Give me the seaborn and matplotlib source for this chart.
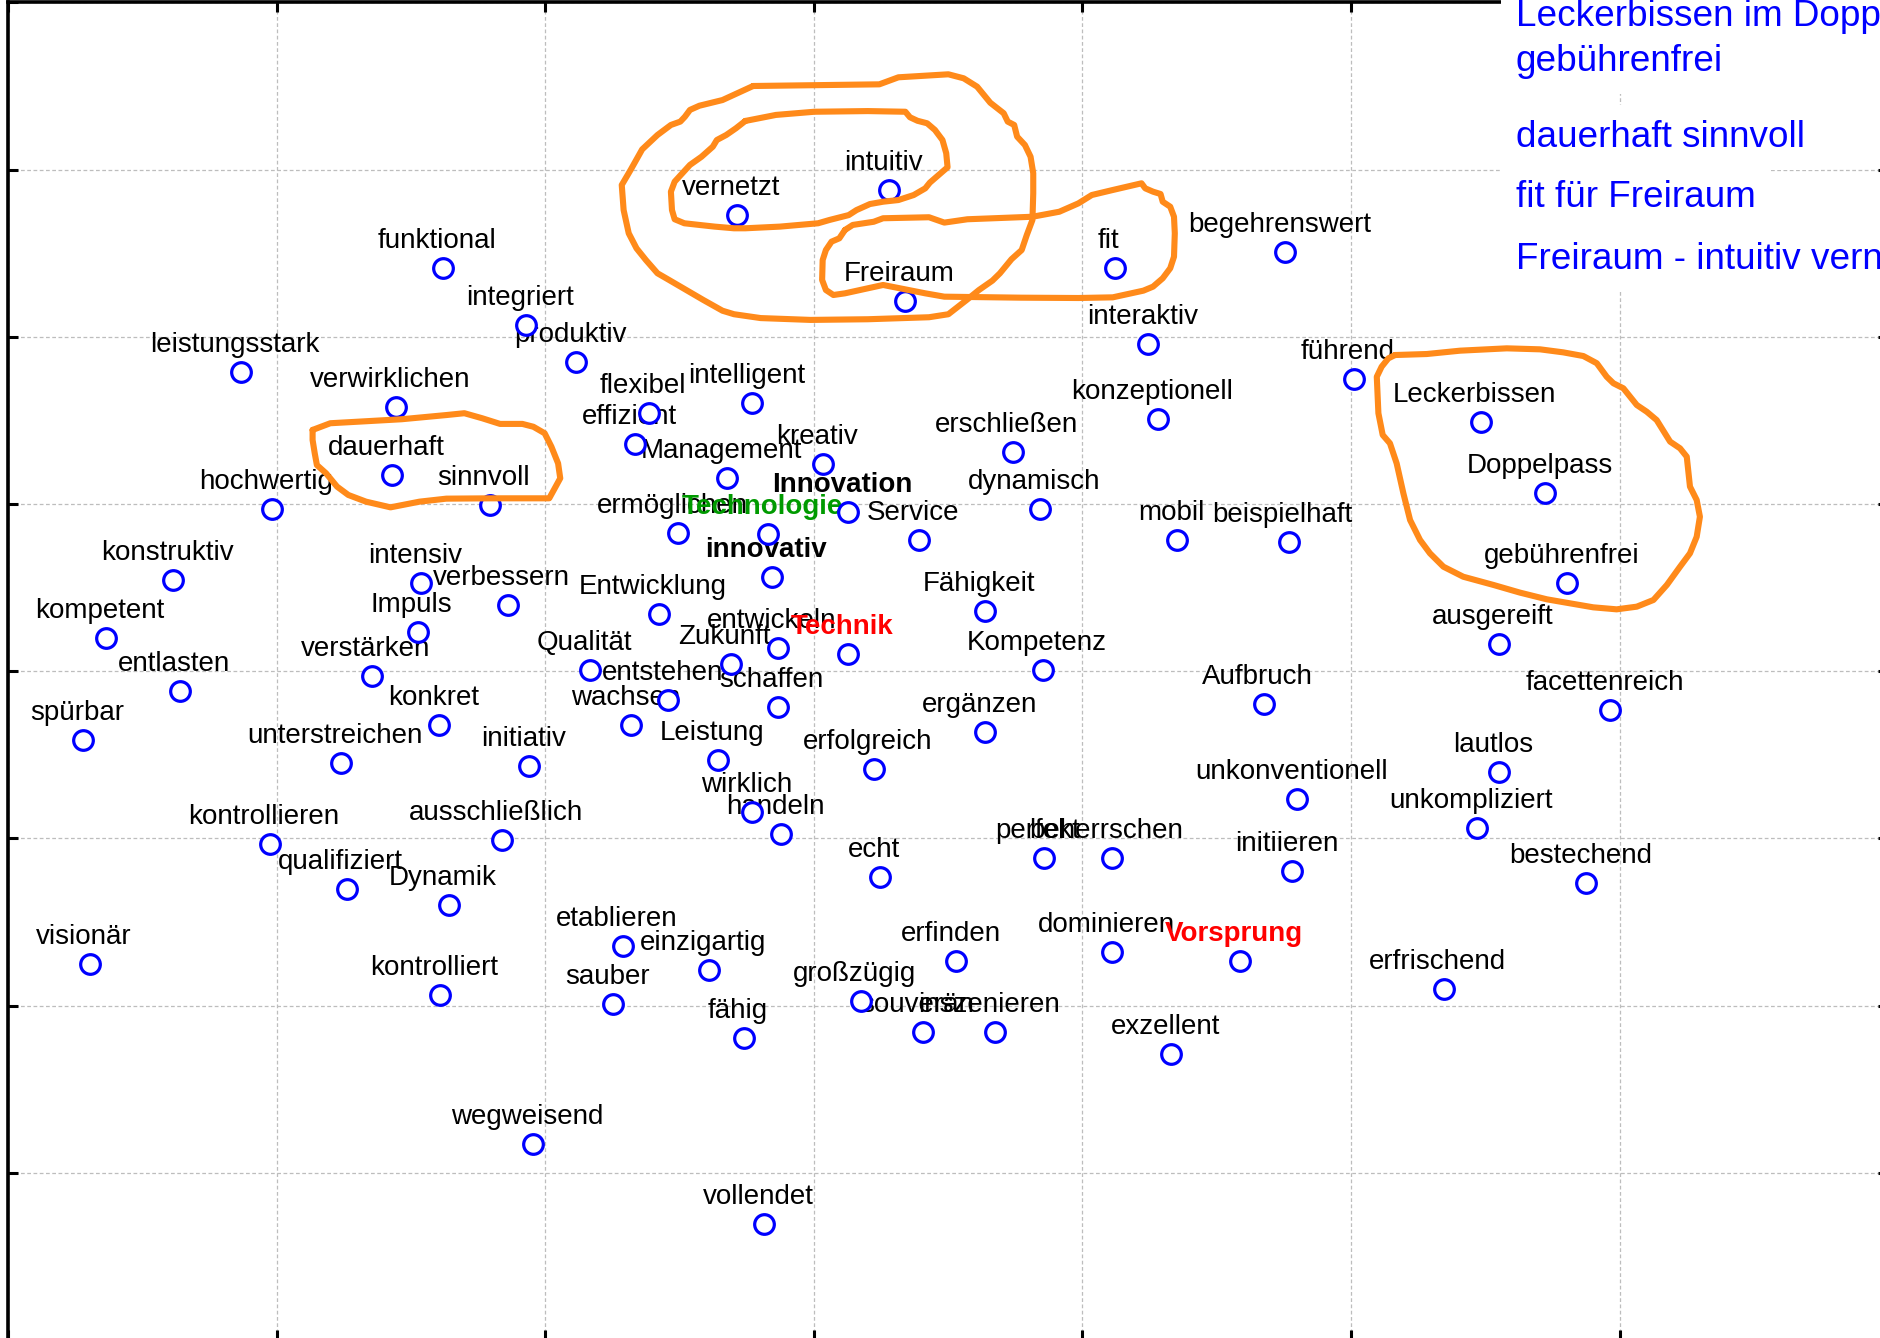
import matplotlib
matplotlib.use("Agg")
import matplotlib.pyplot as plt
import seaborn as sns
import pandas as pd

# ---------------- data ----------------
words = [
    "funktional", "integriert", "produktiv", "leistungsstark", "verwirklichen",
    "flexibel", "intelligent", "effizient", "dauerhaft", "sinnvoll",
    "hochwertig", "Management", "kreativ", "ermöglichen", "Technologie",
    "Innovation", "Service", "innovativ", "konstruktiv", "intensiv",
    "verbessern", "Entwicklung", "Impuls", "kompetent", "verstärken",
    "Qualität", "Zukunft", "entwickeln", "Technik", "entstehen",
    "schaffen", "entlasten", "konkret", "wachsen", "spürbar",
    "unterstreichen", "initiativ", "Leistung", "Fähigkeit", "Kompetenz",
    "ergänzen", "erfolgreich", "wirklich", "handeln", "kontrollieren",
    "ausschließlich", "qualifiziert", "Dynamik", "echt", "perfekt",
    "beherrschen", "initiieren", "visionär", "etablieren", "einzigartig",
    "kontrolliert", "sauber", "erfinden", "dominieren", "Vorsprung",
    "großzügig", "souverän", "inszenieren", "fähig", "exzellent",
    "wegweisend", "vollendet", "vernetzt", "intuitiv", "Freiraum",
    "fit", "begehrenswert", "interaktiv", "führend", "konzeptionell",
    "erschließen", "dynamisch", "mobil", "beispielhaft", "Leckerbissen",
    "Doppelpass", "gebührenfrei", "ausgereift", "Aufbruch", "facettenreich",
    "lautlos", "unkonventionell", "unkompliziert", "bestechend", "erfrischend",
]
word_x = [
    1.619, 1.927, 2.115, 0.868, 1.445,
    2.387, 2.771, 2.334, 1.431, 1.793,
    0.984, 2.678, 3.035, 2.494, 2.830,
    3.129, 3.392, 2.843, 0.614, 1.538,
    1.860, 2.423, 1.525, 0.363, 1.355,
    2.168, 2.691, 2.865, 3.129, 2.459,
    2.865, 0.640, 1.605, 2.320, 0.279,
    1.239, 1.940, 2.642, 3.638, 3.853,
    3.638, 3.223, 2.771, 2.879, 0.975,
    1.838, 1.261, 1.641, 3.245, 3.857,
    4.112, 4.782, 0.305, 2.289, 2.611,
    1.610, 2.253, 3.531, 4.112, 4.585,
    3.174, 3.406, 3.674, 2.740, 4.331,
    1.954, 2.816, 2.713, 3.281, 3.339,
    4.121, 4.755, 4.246, 5.010, 4.281,
    3.741, 3.844, 4.353, 4.768, 5.483,
    5.724, 5.805, 5.550, 4.675, 5.966,
    5.550, 4.800, 5.470, 5.876, 5.345,
]
word_y = [
    6.414, 6.069, 5.847, 5.790, 5.581,
    5.546, 5.603, 5.359, 5.172, 4.993,
    4.971, 5.158, 5.237, 4.828, 4.821,
    4.950, 4.785, 4.562, 4.548, 4.526,
    4.397, 4.340, 4.232, 4.196, 3.974,
    4.010, 4.046, 4.139, 4.103, 3.830,
    3.787, 3.880, 3.680, 3.680, 3.586,
    3.450, 3.436, 3.471, 4.361, 4.010,
    3.636, 3.414, 3.156, 3.026, 2.969,
    2.991, 2.696, 2.603, 2.768, 2.883,
    2.883, 2.804, 2.251, 2.359, 2.215,
    2.065, 2.007, 2.266, 2.323, 2.266,
    2.029, 1.842, 1.842, 1.806, 1.713,
    1.175, 0.694, 6.730, 6.880, 6.213,
    6.414, 6.507, 5.955, 5.747, 5.510,
    5.309, 4.971, 4.785, 4.770, 5.488,
    5.065, 4.526, 4.160, 3.802, 3.766,
    3.400, 3.235, 3.062, 2.732, 2.101,
]

# hand-drawn cluster outlines (vertices in data units)
outline_outer_x = [2.774, 3.244, 3.315, 3.501, 3.558, 3.608, 3.657, 3.707, 3.722, 3.746,
                   3.757, 3.786, 3.807, 3.817, 3.817, 3.814, 3.793, 3.774, 3.736, 3.693,
                   3.665, 3.615, 3.572, 3.501, 3.429, 3.201, 2.988, 2.802, 2.703, 2.660,
                   2.589, 2.461, 2.418, 2.375, 2.340, 2.311, 2.292, 2.285, 2.318, 2.361,
                   2.418, 2.468, 2.503, 2.520, 2.539, 2.574, 2.660]
outline_outer_y = [7.500, 7.510, 7.552, 7.570, 7.546, 7.496, 7.400, 7.337, 7.287, 7.267,
                   7.197, 7.147, 7.077, 6.978, 6.858, 6.699, 6.609, 6.519, 6.464, 6.380,
                   6.336, 6.280, 6.224, 6.135, 6.117, 6.105, 6.101, 6.112, 6.135, 6.156,
                   6.220, 6.340, 6.380, 6.459, 6.529, 6.619, 6.758, 6.908, 6.998, 7.121,
                   7.207, 7.267, 7.287, 7.316, 7.357, 7.382, 7.416]

outline_inner_x = [2.745, 2.859, 3.002, 3.201, 3.341, 3.358, 3.386, 3.422, 3.451, 3.479,
                   3.493, 3.498, 3.465, 3.432, 3.415, 3.372, 3.315, 3.258, 3.209, 3.159,
                   3.130, 3.059, 3.016, 2.874, 2.745, 2.703, 2.631, 2.574, 2.518, 2.482,
                   2.472, 2.468, 2.482, 2.539, 2.582, 2.624, 2.639, 2.674, 2.710]
outline_inner_y = [7.291, 7.327, 7.346, 7.350, 7.346, 7.313, 7.292, 7.277, 7.237, 7.177,
                   7.098, 7.014, 6.968, 6.922, 6.888, 6.848, 6.818, 6.808, 6.794, 6.758,
                   6.728, 6.699, 6.679, 6.659, 6.649, 6.649, 6.659, 6.669, 6.679, 6.703,
                   6.758, 6.868, 6.928, 7.028, 7.077, 7.137, 7.177, 7.207, 7.247]

outline_fit_x = [3.116, 3.145, 3.223, 3.258, 3.429, 3.486, 3.572, 3.814, 3.914, 3.985,
                 4.035, 4.113, 4.220, 4.234, 4.263, 4.291, 4.299, 4.327, 4.341, 4.344,
                 4.341, 4.327, 4.299, 4.263, 4.227, 4.113, 3.985, 3.771, 3.486, 3.415,
                 3.258, 3.201, 3.116, 3.073, 3.045, 3.031, 3.033, 3.045, 3.066, 3.095]
outline_fit_y = [6.639, 6.669, 6.688, 6.709, 6.715, 6.683, 6.703, 6.718, 6.748, 6.798,
                 6.848, 6.878, 6.918, 6.888, 6.868, 6.854, 6.808, 6.778, 6.718, 6.619,
                 6.479, 6.410, 6.350, 6.300, 6.276, 6.236, 6.232, 6.234, 6.240, 6.260,
                 6.310, 6.290, 6.260, 6.250, 6.280, 6.340, 6.459, 6.519, 6.569, 6.589]

outline_lecker_x = [5.164, 5.282, 5.406, 5.580, 5.704, 5.790, 5.865, 5.915, 5.952, 5.977,
                    6.014, 6.064, 6.101, 6.138, 6.188, 6.225, 6.250, 6.262, 6.287, 6.299,
                    6.287, 6.262, 6.225, 6.176, 6.126, 6.064, 5.989, 5.902, 5.815, 5.729,
                    5.629, 5.530, 5.418, 5.344, 5.294, 5.257, 5.220, 5.195, 5.170, 5.145,
                    5.118, 5.102, 5.096, 5.114, 5.139]
outline_lecker_y = [5.891, 5.897, 5.917, 5.931, 5.925, 5.907, 5.885, 5.842, 5.761, 5.722,
                    5.692, 5.592, 5.552, 5.502, 5.373, 5.333, 5.283, 5.104, 5.024, 4.924,
                    4.804, 4.705, 4.625, 4.516, 4.426, 4.386, 4.370, 4.382, 4.406, 4.430,
                    4.470, 4.516, 4.565, 4.625, 4.705, 4.785, 4.904, 5.064, 5.243, 5.363,
                    5.413, 5.543, 5.761, 5.821, 5.871]

outline_dauer_x = [1.134, 1.200, 1.300, 1.466, 1.632, 1.699, 1.765, 1.832, 1.915, 1.956,
                   1.998, 2.023, 2.048, 2.056, 2.039, 2.015, 1.799, 1.632, 1.532, 1.424,
                   1.333, 1.267, 1.225, 1.184, 1.150, 1.142, 1.134]
outline_dauer_y = [5.443, 5.483, 5.492, 5.507, 5.532, 5.543, 5.513, 5.479, 5.479, 5.462,
                   5.423, 5.343, 5.243, 5.154, 5.104, 5.034, 5.034, 5.032, 5.014, 4.980,
                   5.014, 5.054, 5.104, 5.184, 5.233, 5.303, 5.383]

caption_lines = ["Leckerbissen im Doppelpass", "gebührenfrei",
                 "dauerhaft sinnvoll", "fit für Freiraum",
                 "Freiraum - intuitiv vernetzt"]

# emphasised words (style only)
special_style = {
    "Innovation": ("black", "bold"),
    "innovativ": ("black", "bold"),
    "Technologie": ("#009a00", "bold"),
    "Technik": ("#ff0000", "bold"),
    "Vorsprung": ("#ff0000", "bold"),
}

# ---------------- figure ----------------
sns.set_style("white")
plt.rcParams['font.family'] = ['Liberation Sans', 'DejaVu Sans']

W, H = 1881, 1338
fig = plt.figure(figsize=(W / 100, H / 100), dpi=100)
fig.patch.set_facecolor("white")
ax = fig.add_axes([8 / W, -2 / H, 1880.2 / W, 1337.6 / H])
ax.set_facecolor("white")

df = pd.DataFrame({"word": words, "x": word_x, "y": word_y})
sns.scatterplot(data=df, x="x", y="y", ax=ax, marker="o", s=200,
                facecolor="white", edgecolor="#0000ff", linewidth=2.3,
                zorder=5, legend=False)
coll = ax.collections[-1]
coll.set_facecolor("white")
coll.set_edgecolor("#0000ff")
coll.set_linewidth(2.3)

for w, x, y in zip(words, word_x, word_y):
    col, wt = special_style.get(w, ("black", "normal"))
    ax.annotate(w, (x, y), xytext=(-4.3, 14.4), textcoords="offset points",
                ha="center", va="baseline", fontsize=20, color=col,
                fontweight=wt, zorder=4)

for cx, cy in [(outline_outer_x, outline_outer_y),
               (outline_inner_x, outline_inner_y),
               (outline_fit_x, outline_fit_y),
               (outline_lecker_x, outline_lecker_y),
               (outline_dauer_x, outline_dauer_y)]:
    ax.plot(list(cx) + [cx[0]], list(cy) + [cy[0]], color="#ff8a1a", lw=4.4,
            solid_joinstyle="round", solid_capstyle="round", zorder=6)

ax.set_xlim(0, 7)
ax.set_ylim(0, 8)
ax.set_xticks(range(0, 8))
ax.set_yticks(range(0, 9))
ax.set_xlabel("")
ax.set_ylabel("")
ax.tick_params(which="both", direction="in", length=7.5, width=2.2,
               top=True, right=True, bottom=True, left=True,
               labelbottom=False, labelleft=False, color="black")
ax.grid(True, color="#bdbdbd", linestyle=(0, (3, 2)), linewidth=0.9)
ax.set_axisbelow(True)
for s in ax.spines.values():
    s.set_visible(True)
    s.set_linewidth(2.6)
    s.set_color("black")

caption_baselines = [26, 71, 147, 207, 269]
for line, base in zip(caption_lines, caption_baselines):
    fig.text(1516 / W, 1 - base / H, line, fontsize=26.6, color="#0000ff",
             ha="left", va="baseline", zorder=10,
             bbox=dict(boxstyle="square,pad=0.4", fc="white", ec="none"))

fig.savefig("out.png", dpi=100)
